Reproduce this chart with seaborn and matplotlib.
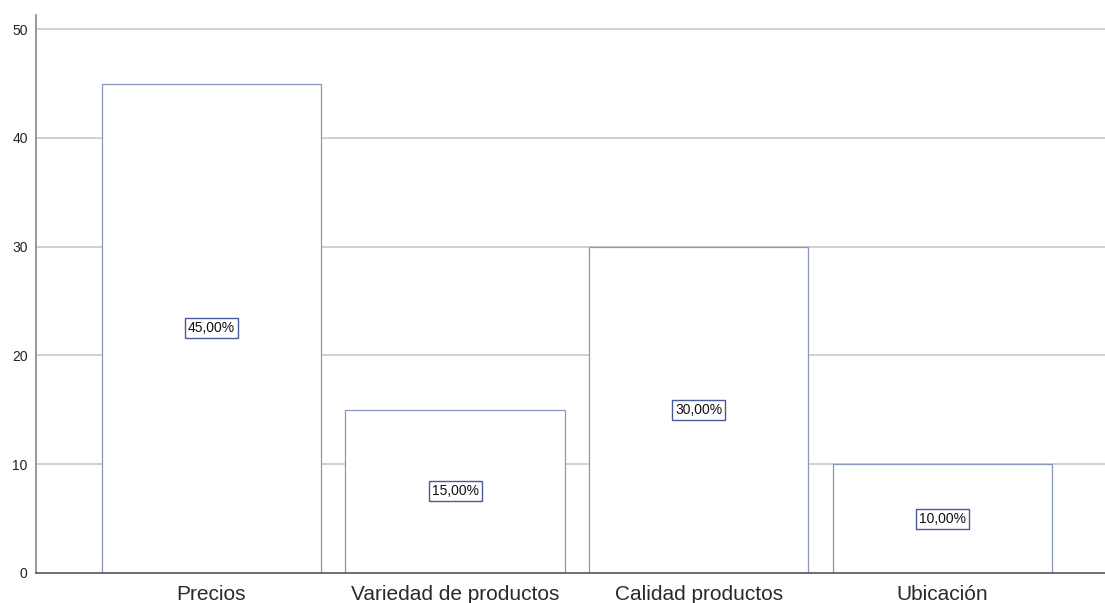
import matplotlib
matplotlib.use("Agg")
import matplotlib.pyplot as plt
import seaborn as sns
import pandas as pd

categorias = ["Precios", "Variedad de productos", "Calidad productos", "Ubicación"]
porcentajes = [45.0, 15.0, 30.0, 10.0]
yticks = [0, 10, 20, 30, 40, 50]

df = pd.DataFrame({"categoria": categorias, "porcentaje": porcentajes})

sns.set_style("white")
plt.rcParams["font.family"] = ["Liberation Sans", "DejaVu Sans"]

fig = plt.figure(figsize=(11.05, 6.03), dpi=100)
ax = fig.add_axes([0.0326, 0.0498, 0.9674, 0.9252])

# horizontal reference lines behind the bars
for t in yticks[1:]:
    ax.axhline(t, color="#c8c8c8", linewidth=1.2, zorder=0)

sns.barplot(data=df, x="categoria", y="porcentaje", ax=ax, color="white",
            edgecolor="#8a97c0", linewidth=0.9, width=0.9, zorder=2,
            errorbar=None, saturation=1)

for i, v in enumerate(porcentajes):
    ax.text(i, v / 2, f"{v:.2f}%".replace(".", ","), ha="center", va="center",
            fontsize=10, color="#111111", zorder=3,
            bbox=dict(boxstyle="square,pad=0.22", facecolor="white",
                      edgecolor="#4a5a95", linewidth=1.0))

ax.set_xlim(-0.72, 3.667)
ax.set_ylim(0, 51.3)
ax.set_yticks(yticks)
ax.set_yticklabels([str(t) for t in yticks], fontsize=10, color="#222222")
ax.tick_params(axis="x", labelsize=15, colors="#2a2a2a", length=0, pad=9)
ax.tick_params(axis="y", length=0, pad=6)
ax.set_xlabel("")
ax.set_ylabel("")
for s in ["top", "right"]:
    ax.spines[s].set_visible(False)
ax.spines["left"].set_color("#888888")
ax.spines["left"].set_linewidth(1.2)
ax.spines["bottom"].set_color("#555555")
ax.spines["bottom"].set_linewidth(1.2)

fig.savefig("out.png", dpi=100)
